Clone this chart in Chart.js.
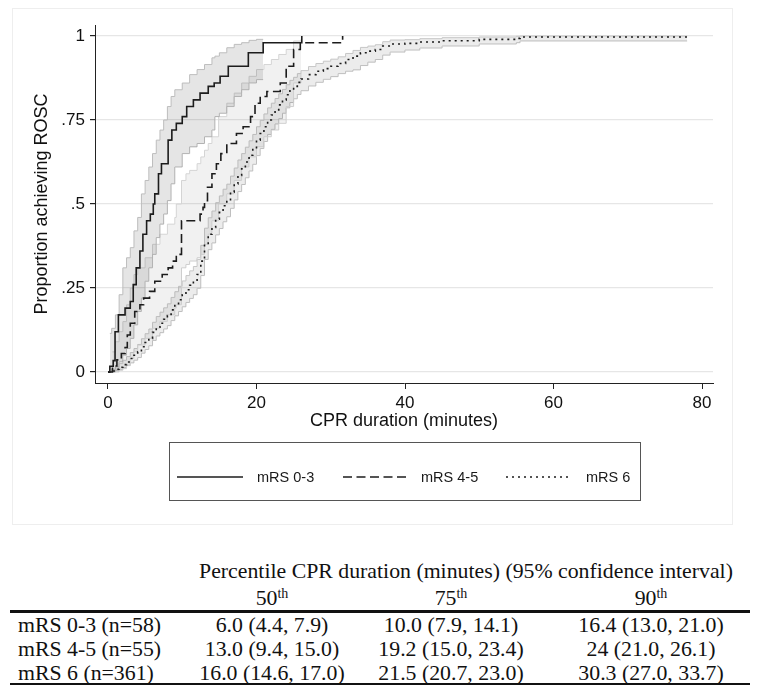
<!DOCTYPE html>
<html>
<head>
<meta charset="utf-8">
<script src="https://cdn.jsdelivr.net/npm/chart.js@4.4.1/dist/chart.umd.min.js"></script>
<style>
  body { margin: 0; background: #fff; }
  #page { position: relative; width: 764px; height: 692px; overflow: hidden; background: #fff; }
  #frame { position: absolute; left: 12px; top: 8px; width: 719px; height: 515px; border: 1px solid #eeeeee; }
  #plot { position: absolute; left: 0; top: 0; width: 764px; height: 530px; }
  .cell { position: absolute; font-family: 'Liberation Serif', 'Times New Roman', serif; font-size: 21.8px;
          line-height: 24px; white-space: nowrap; color: #111; }
  .cell sup { font-size: 14px; vertical-align: baseline; position: relative; top: -7px; }
  .rule { position: absolute; left: 10px; width: 740px; background: #111; }
</style>
</head>
<body>
<div id="page">
  <div id="frame"></div>
  <div id="plot"><canvas id="km" width="764" height="530"></canvas></div>
  <div id="table"></div>
</div>
<script>
// axis ticks
const xTickValues = [0, 20, 40, 60, 80];
const yTickValues = [0, 0.25, 0.5, 0.75, 1];
const yTickLabels = ['0', '.25', '.5', '.75', '1'];
const groupLabels = ['mRS 0-3', 'mRS 4-5', 'mRS 6'];

// mRS 0-3: cumulative proportion achieving ROSC (step jumps)
const mrs03Time = [0, 0.25, 0.7, 0.95, 1.4, 2.3, 3.0, 3.4, 3.8, 4.3, 4.7, 5.2, 5.7, 6.1, 6.3, 6.8, 7.2, 8.1, 8.6, 9.2,
                   10.0, 10.6, 11.5, 12.4, 13.5, 14.3, 15.1, 16.2, 18.9, 20.9, 26.1];
const mrs03Prop = [0, 0.017, 0.034, 0.12, 0.17, 0.19, 0.21, 0.26, 0.31, 0.36, 0.41, 0.45, 0.47, 0.50, 0.53, 0.59, 0.62, 0.69, 0.72, 0.74,
                   0.76, 0.79, 0.81, 0.83, 0.85, 0.86, 0.88, 0.91, 0.95, 0.98, 1.0];
const mrs03CiTime = [0.25, 0.5, 1, 1.5, 2, 2.5, 3, 3.5, 4, 4.5, 5, 5.5, 6, 6.5, 7, 7.5, 8, 8.5, 9, 10,
                     11, 12, 13, 14, 14.4, 15, 16, 17, 18, 19, 20, 20.9];
const mrs03Upper = [0.115, 0.13, 0.17, 0.23, 0.31, 0.34, 0.37, 0.42, 0.46, 0.53, 0.57, 0.61, 0.65, 0.69, 0.72, 0.75, 0.79, 0.82, 0.84, 0.86,
                    0.885, 0.9, 0.915, 0.935, 0.94, 0.95, 0.965, 0.975, 0.98, 0.987, 0.99, 0.99];
const mrs03Lower = [0, 0, 0.005, 0.03, 0.05, 0.07, 0.1, 0.14, 0.18, 0.22, 0.27, 0.31, 0.35, 0.4, 0.44, 0.47, 0.51, 0.56, 0.61, 0.65,
                    0.67, 0.68, 0.70, 0.72, 0.76, 0.77, 0.79, 0.82, 0.84, 0.86, 0.87, 0.87];

// mRS 4-5
const mrs45Time = [0, 0.6, 1.2, 1.8, 2.3, 2.6, 3.0, 3.6, 4.3, 4.8, 5.6, 6.3, 7.3, 8.1, 8.7, 9.2, 9.9, 12.4, 12.8, 13.0,
                   13.4, 14.0, 14.6, 15.2, 16.0, 17.3, 18.2, 19.2, 19.8, 20.5, 21.4, 23.2, 24.0, 25.0, 25.9, 31.6];
const mrs45Prop = [0, 0.018, 0.036, 0.055, 0.073, 0.11, 0.145, 0.18, 0.20, 0.22, 0.24, 0.27, 0.29, 0.31, 0.33, 0.35, 0.45, 0.47, 0.49, 0.51,
                   0.55, 0.59, 0.62, 0.65, 0.68, 0.71, 0.73, 0.76, 0.80, 0.82, 0.835, 0.86, 0.91, 0.96, 0.98, 1.0];
const mrs45CiTime = [0.6, 1, 1.5, 2, 2.5, 3, 3.5, 4, 5, 6, 7, 8, 9, 9.2, 9.9, 10.5, 11, 12, 12.5, 13,
                     13.5, 14, 14.9, 16, 17, 18, 19, 20, 21, 22, 23, 24, 25, 26];
const mrs45Upper = [0.06, 0.09, 0.12, 0.15, 0.2, 0.25, 0.29, 0.31, 0.34, 0.38, 0.41, 0.44, 0.46, 0.5, 0.57, 0.59, 0.6, 0.62, 0.64, 0.66,
                    0.68, 0.70, 0.76, 0.8, 0.83, 0.86, 0.88, 0.9, 0.915, 0.93, 0.945, 0.96, 0.985, 0.99];
const mrs45Lower = [0, 0, 0.005, 0.01, 0.02, 0.04, 0.06, 0.08, 0.1, 0.13, 0.15, 0.17, 0.19, 0.2, 0.31, 0.32, 0.33, 0.34, 0.35, 0.38,
                    0.41, 0.45, 0.5, 0.53, 0.57, 0.61, 0.64, 0.67, 0.7, 0.72, 0.74, 0.79, 0.86, 0.89];

// mRS 6
const mrs6Time = [0, 0.5, 1, 1.5, 2, 2.5, 3, 3.5, 4, 4.5, 5, 5.5, 6, 6.5, 7, 7.5, 8, 8.5, 9, 9.5,
                  10, 10.5, 11, 11.5, 12, 12.5, 13, 13.5, 14, 14.5, 15, 15.5, 16, 16.5, 17, 17.5, 18, 18.5, 19, 19.5,
                  20, 20.5, 21, 21.5, 22, 22.5, 23, 23.5, 24, 24.5, 25, 25.5, 26, 27, 28, 29, 30, 31, 32, 33,
                  34, 35, 36, 37, 38, 40, 42, 45, 50, 55, 55.5, 78];
const mrs6Prop = [0, 0.003, 0.008, 0.014, 0.022, 0.03, 0.04, 0.05, 0.06, 0.075, 0.088, 0.10, 0.118, 0.133, 0.145, 0.157, 0.168, 0.185, 0.2, 0.215,
                  0.23, 0.245, 0.258, 0.27, 0.29, 0.33, 0.38, 0.41, 0.43, 0.455, 0.475, 0.495, 0.51, 0.535, 0.56, 0.585, 0.605, 0.625, 0.645, 0.665,
                  0.69, 0.71, 0.73, 0.75, 0.765, 0.78, 0.795, 0.81, 0.825, 0.84, 0.85, 0.862, 0.872, 0.885, 0.895, 0.903, 0.91, 0.918, 0.93, 0.94,
                  0.95, 0.955, 0.96, 0.97, 0.976, 0.978, 0.982, 0.986, 0.99, 0.993, 0.997, 0.997];
const mrs6Upper = [0, 0.008, 0.016, 0.025, 0.035, 0.046, 0.058, 0.07, 0.082, 0.099, 0.114, 0.128, 0.148, 0.165, 0.178, 0.191, 0.203, 0.222, 0.239, 0.255,
                   0.271, 0.287, 0.301, 0.314, 0.335, 0.377, 0.428, 0.459, 0.479, 0.504, 0.524, 0.544, 0.559, 0.583, 0.607, 0.631, 0.65, 0.669, 0.688, 0.707,
                   0.73, 0.749, 0.768, 0.786, 0.8, 0.814, 0.828, 0.841, 0.855, 0.868, 0.877, 0.888, 0.897, 0.909, 0.918, 0.925, 0.931, 0.938, 0.948, 0.957,
                   0.966, 0.97, 0.974, 0.983, 0.988, 0.989, 0.992, 0.995, 0.997, 0.999, 1.0, 1.0];
const mrs6Lower = [0, 0.001, 0.004, 0.008, 0.013, 0.019, 0.027, 0.035, 0.043, 0.056, 0.067, 0.078, 0.094, 0.107, 0.117, 0.128, 0.138, 0.153, 0.167, 0.18,
                   0.194, 0.207, 0.219, 0.23, 0.249, 0.287, 0.335, 0.364, 0.384, 0.408, 0.427, 0.447, 0.462, 0.487, 0.512, 0.537, 0.558, 0.578, 0.598, 0.618,
                   0.644, 0.665, 0.686, 0.707, 0.722, 0.738, 0.754, 0.77, 0.786, 0.802, 0.813, 0.826, 0.837, 0.851, 0.862, 0.871, 0.879, 0.888, 0.895, 0.899,
                   0.912, 0.922, 0.93, 0.943, 0.952, 0.958, 0.964, 0.97, 0.976, 0.98, 0.985, 0.985];

// percentile table
const tableGroups = ['mRS 0-3 (n=58)', 'mRS 4-5 (n=55)', 'mRS 6 (n=361)'];
const percentileHeads = ['50', '75', '90'];
const pct50 = ['6.0 (4.4, 7.9)', '13.0 (9.4, 15.0)', '16.0 (14.6, 17.0)'];
const pct75 = ['10.0 (7.9, 14.1)', '19.2 (15.0, 23.4)', '21.5 (20.7, 23.0)'];
const pct90 = ['16.4 (13.0, 21.0)', '24 (21.0, 26.1)', '30.3 (27.0, 33.7)'];

function pts(ts, vs) {
  return ts.map((t, i) => ({ x: t, y: vs[i] }));
}

const ink = '#1c1c1c';

function kmLine(label, ts, vs, dash) {
  return {
    label: label, data: pts(ts, vs), stepped: true, borderColor: ink, borderWidth: 1.6,
    borderDash: dash, pointRadius: 0, fill: false, borderCapStyle: 'butt'
  };
}
function ciEdge(ts, vs, edge, fillColor, isUpper) {
  return {
    label: 'ci', data: pts(ts, vs), stepped: true, borderColor: edge, borderWidth: 1,
    pointRadius: 0, fill: isUpper ? '+1' : false, backgroundColor: fillColor
  };
}

const legendBox = {
  id: 'legendBox',
  afterDraw(chart) {
    const ctx = chart.ctx;
    ctx.save();
    ctx.strokeStyle = '#555';
    ctx.lineWidth = 1;
    ctx.setLineDash([]);
    ctx.strokeRect(169.5, 442.5, 471, 58);
    const spots = [[177, 243, 257], [343, 409, 421], [506, 572, 586]];
    const y = 477;
    ctx.font = "14.5px 'Liberation Sans', Arial, sans-serif";
    ctx.textBaseline = 'middle';
    ctx.fillStyle = '#1a1a1a';
    spots.forEach((s, i) => {
      const ds = chart.data.datasets[i];
      ctx.strokeStyle = ds.borderColor;
      ctx.lineWidth = ds.borderWidth;
      ctx.setLineDash(ds.borderDash);
      ctx.beginPath();
      ctx.moveTo(s[0], y);
      ctx.lineTo(s[1], y);
      ctx.stroke();
      ctx.fillText(ds.label, s[2], y + 1);
    });
    ctx.restore();
  }
};

Chart.defaults.font.family = "'Liberation Sans', Arial, sans-serif";
Chart.defaults.color = '#111';

new Chart(document.getElementById('km'), {
  type: 'line',
  data: {
    datasets: [
      kmLine(groupLabels[0], mrs03Time, mrs03Prop, []),
      kmLine(groupLabels[1], mrs45Time, mrs45Prop, [9, 4.5]),
      kmLine(groupLabels[2], mrs6Time, mrs6Prop, [2, 4]),
      ciEdge(mrs03CiTime, mrs03Upper, '#bcbcbc', 'rgba(0,0,0,0.10)', true),
      ciEdge(mrs03CiTime, mrs03Lower, '#bcbcbc', 'rgba(0,0,0,0.10)', false),
      ciEdge(mrs45CiTime, mrs45Upper, '#d4d4d4', 'rgba(0,0,0,0.055)', true),
      ciEdge(mrs45CiTime, mrs45Lower, '#d4d4d4', 'rgba(0,0,0,0.055)', false),
      ciEdge(mrs6Time, mrs6Upper, '#c6c6c6', 'rgba(0,0,0,0.075)', true),
      ciEdge(mrs6Time, mrs6Lower, '#c6c6c6', 'rgba(0,0,0,0.075)', false)
    ]
  },
  options: {
    responsive: false,
    animation: false,
    devicePixelRatio: 1,
    layout: { padding: { left: 27, right: 51, top: 25, bottom: 94 } },
    plugins: {
      legend: { display: false },
      tooltip: { enabled: false }
    },
    scales: {
      x: {
        type: 'linear', min: -1.75, max: 81.48,
        afterBuildTicks: s => { s.ticks = xTickValues.map(v => ({ value: v })); },
        afterFit: s => { s.height = 53; },
        ticks: { padding: 4, font: { size: 17 }, color: '#111', maxRotation: 0, autoSkip: false },
        grid: { drawOnChartArea: false, tickColor: '#222', tickLength: 6 },
        border: { color: '#222', width: 1 },
        title: { display: true, text: 'CPR duration (minutes)', font: { size: 18 }, color: '#111', padding: { top: 4, bottom: 4 } }
      },
      y: {
        type: 'linear', min: -0.0327, max: 1.0327,
        afterBuildTicks: s => { s.ticks = yTickValues.map(v => ({ value: v })); },
        afterFit: s => { s.width = 68; },
        ticks: {
          padding: 5, font: { size: 17 }, color: '#111',
          callback: v => yTickLabels[yTickValues.indexOf(v)]
        },
        grid: { color: '#e6e6e6', lineWidth: 1.2, tickColor: '#222', tickLength: 5 },
        border: { color: '#222', width: 1 },
        title: { display: true, text: 'Proportion achieving ROSC', font: { size: 18 }, color: '#111', padding: { top: 4, bottom: 4 } }
      }
    }
  },
  plugins: [legendBox]
});

// table under the chart
const table = document.getElementById('table');
function addText(html, x, y, align, w) {
  const d = document.createElement('div');
  d.className = 'cell';
  d.innerHTML = html;
  d.style.top = (y - 12) + 'px';
  if (align === 'left') {
    d.style.left = x + 'px';
  } else {
    d.style.left = (x - w / 2) + 'px';
    d.style.width = w + 'px';
    d.style.textAlign = 'center';
  }
  table.appendChild(d);
}
function addRule(y, h) {
  const r = document.createElement('div');
  r.className = 'rule';
  r.style.top = y + 'px';
  r.style.height = h + 'px';
  table.appendChild(r);
}

const colX = [272, 451, 651];
addText('Percentile CPR duration (minutes) (95% confidence interval)', 466, 571, 'center', 720);
percentileHeads.forEach((h, i) => addText(h + '<sup>th</sup>', colX[i], 598, 'center', 200));
addRule(610, 2.5);
const rowY = [625, 649, 673];
tableGroups.forEach((g, r) => {
  addText(g, 18, rowY[r], 'left');
  addText(pct50[r], colX[0], rowY[r], 'center', 220);
  addText(pct75[r], colX[1], rowY[r], 'center', 220);
  addText(pct90[r], colX[2], rowY[r], 'center', 220);
});
addRule(683, 1.6);
</script>
</body>
</html>
